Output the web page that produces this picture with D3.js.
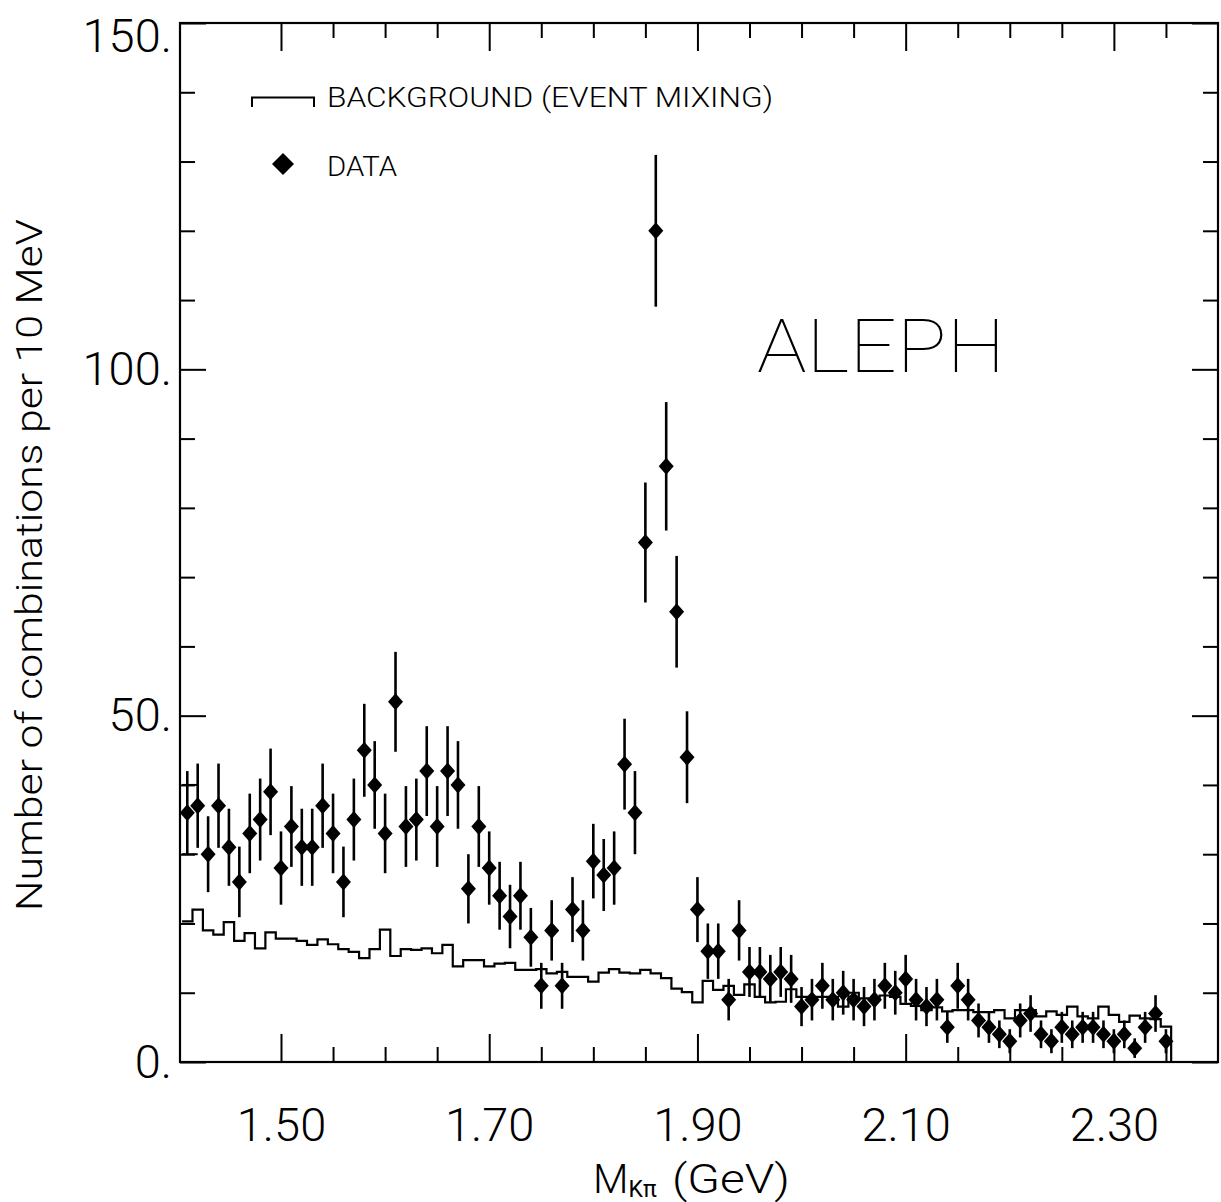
<!DOCTYPE html>
<html>
<head>
<meta charset="utf-8">
<script src="https://cdn.jsdelivr.net/npm/d3@7"></script>
<style>
body { margin: 0; background: #fff; }
svg text { font-family: Roboto, "Liberation Sans", sans-serif; font-weight: 300; fill: #000; }
</style>
</head>
<body>
<div id="chart"></div>
<script>
// K-pi invariant mass, 10 MeV bins, first bin centre 1.41 GeV
const massStart = 1.41;
const binWidth = 0.01;

// DATA (counts per bin)
const dataCounts = [36, 37, 30, 37, 31, 26, 33, 35, 39, 28,
    34, 31, 31, 37, 33, 26, 35, 45, 40, 33,
    52, 34, 35, 42, 34, 42, 40, 25, 34, 28,
    24, 21, 24, 18, 11, 19, 11, 22, 19, 29,
    27, 28, 43, 36, 75, 120, 86, 65, 44, 22,
    16, 16, 9, 19, 13, 13, 12, 13, 12, 8,
    9, 11, 9, 10, 9, 8, 9, 11, 10, 12,
    9, 8, 9, 5, 11, 9, 6, 5, 4, 3,
    6, 7, 4, 3, 5, 4, 5, 5, 4, 3,
    4, 2, 5, 7, 3];

// BACKGROUND (event mixing), same bins
const bgCounts = [20.3, 22.0, 19.0, 18.4, 20.2, 17.5, 18.6, 16.4, 18.7, 17.8,
    17.8, 17.5, 16.9, 17.7, 17.0, 16.3, 15.9, 15.0, 16.3, 19.1,
    15.3, 16.3, 16.2, 16.4, 15.7, 16.9, 13.8, 14.7, 14.7, 13.8,
    14.2, 14.3, 13.3, 13.3, 13.4, 12.8, 13.0, 12.3, 12.3, 11.6,
    12.9, 13.4, 12.9, 12.8, 13.3, 12.8, 12.1, 10.6, 10.1, 8.6,
    11.7, 10.4, 11.0, 9.7, 11.2, 9.4, 8.6, 8.7, 10.5, 9.4,
    9.4, 9.4, 9.4, 8.0, 10.0, 9.2, 9.0, 9.6, 9.4, 8.4,
    8.1, 7.5, 7.9, 7.3, 7.5, 7.5, 7.2, 7.2, 7.5, 6.3,
    7.5, 7.5, 6.6, 7.3, 6.8, 8.0, 6.6, 6.3, 8.0, 6.8,
    5.8, 6.7, 6.3, 6.2, 5.1];

const masses = dataCounts.map((d, i) => +(massStart + i * binWidth).toFixed(3));

const xMajor = [1.50, 1.70, 1.90, 2.10, 2.30];
const xMinor = [1.55, 1.60, 1.65, 1.75, 1.80, 1.85, 1.95, 2.00, 2.05, 2.15, 2.20, 2.25, 2.35];
const yMajor = [0, 50, 100, 150];
const yMinor = [10, 20, 30, 40, 60, 70, 80, 90, 110, 120, 130, 140];
const firstBinMarks = [30, 40];

const W = 1221, H = 1202;
const margin = { top: 23, right: 3, bottom: 140, left: 180 };
const width = W - margin.left - margin.right;
const height = H - margin.top - margin.bottom;

const svg = d3.select("#chart").append("svg")
    .attr("width", W)
    .attr("height", H);

const g = svg.append("g").attr("transform", `translate(${margin.left},${margin.top})`);

const x = d3.scaleLinear().domain([1.403, 2.40]).range([0, width]);
const y = d3.scaleLinear().domain([0, 150]).range([height, 0]);

// axes, ticks pointing inward
function styleAxis(sel) {
    sel.select(".domain").remove();
    sel.selectAll(".tick line").attr("stroke", "#000").attr("stroke-width", 2);
    sel.selectAll(".tick text").style("font-size", "47px").attr("fill", "#000");
}

g.append("g").attr("transform", `translate(0,${height})`)
    .call(d3.axisBottom(x).tickValues(xMajor).tickSize(-28).tickSizeOuter(0)
        .tickPadding(46).tickFormat(d3.format(".2f")))
    .call(styleAxis);
g.append("g").attr("transform", `translate(0,${height})`)
    .call(d3.axisBottom(x).tickValues(xMinor).tickSize(-15).tickSizeOuter(0).tickFormat(""))
    .call(styleAxis);
g.append("g")
    .call(d3.axisTop(x).tickValues(xMajor).tickSize(-28).tickSizeOuter(0).tickFormat(""))
    .call(styleAxis);
g.append("g")
    .call(d3.axisTop(x).tickValues(xMinor).tickSize(-15).tickSizeOuter(0).tickFormat(""))
    .call(styleAxis);

const gy = g.append("g")
    .call(d3.axisLeft(y).tickValues(yMajor).tickSize(-26).tickSizeOuter(0)
        .tickPadding(8).tickFormat(d => d + "."))
    .call(styleAxis);
gy.selectAll(".tick text").filter(d => d === 150).attr("dy", "0.6em");
g.append("g")
    .call(d3.axisLeft(y).tickValues(yMinor).tickSize(-15).tickSizeOuter(0).tickFormat(""))
    .call(styleAxis);
g.append("g").attr("transform", `translate(${width},0)`)
    .call(d3.axisRight(y).tickValues(yMajor).tickSize(-26).tickSizeOuter(0).tickFormat(""))
    .call(styleAxis);
g.append("g").attr("transform", `translate(${width},0)`)
    .call(d3.axisRight(y).tickValues(yMinor).tickSize(-15).tickSizeOuter(0).tickFormat(""))
    .call(styleAxis);

// frame
g.append("rect")
    .attr("width", width)
    .attr("height", height)
    .attr("fill", "none")
    .attr("stroke", "#000")
    .attr("stroke-width", 2.2);

// background histogram
const steps = [];
bgCounts.forEach((v, i) => {
    steps.push([masses[i] - binWidth / 2, v]);
    steps.push([masses[i] + binWidth / 2, v]);
});
const lastEdge = masses[masses.length - 1] + binWidth / 2;
steps.push([lastEdge, 0], [lastEdge + binWidth, 0]);

g.append("path")
    .datum(steps)
    .attr("fill", "none")
    .attr("stroke", "#000")
    .attr("stroke-width", 2.2)
    .attr("d", d3.line().x(d => x(d[0])).y(d => y(d[1])));

// odd little marks on the first bin
g.selectAll("line.firstbin")
    .data(firstBinMarks)
    .join("line")
    .attr("class", "firstbin")
    .attr("x1", x(masses[0] - binWidth / 2))
    .attr("x2", x(masses[0] + binWidth))
    .attr("y1", d => y(d))
    .attr("y2", d => y(d))
    .attr("stroke", "#000")
    .attr("stroke-width", 2);

// data: Poisson error bars + diamonds
const pts = dataCounts.map((d, i) => ({ m: masses[i], n: d, e: Math.sqrt(d) }));

g.selectAll("line.err")
    .data(pts)
    .join("line")
    .attr("class", "err")
    .attr("x1", d => x(d.m))
    .attr("x2", d => x(d.m))
    .attr("y1", d => y(d.n - d.e))
    .attr("y2", d => y(d.n + d.e))
    .attr("stroke", "#000")
    .attr("stroke-width", 2.6);

const diamond = "M0,-8.5L7.5,0L0,8.5L-7.5,0Z";
g.selectAll("path.pt")
    .data(pts)
    .join("path")
    .attr("class", "pt")
    .attr("d", diamond)
    .attr("transform", d => `translate(${x(d.m)},${y(d.n)})`)
    .attr("fill", "#000");

// legend
svg.append("path")
    .attr("d", "M252,107V97.5H314V107")
    .attr("fill", "none")
    .attr("stroke", "#000")
    .attr("stroke-width", 2);
svg.append("text")
    .attr("x", 327).attr("y", 107)
    .attr("textLength", 446).attr("lengthAdjust", "spacingAndGlyphs")
    .style("font-size", "27px")
    .text("BACKGROUND (EVENT MIXING)");
svg.append("path")
    .attr("d", "M0,-11L11,0L0,11L-11,0Z")
    .attr("transform", "translate(283,164)")
    .attr("fill", "#000");
svg.append("text")
    .attr("x", 327).attr("y", 176)
    .attr("textLength", 70).attr("lengthAdjust", "spacingAndGlyphs")
    .style("font-size", "28px")
    .text("DATA");

// experiment label
svg.append("text")
    .attr("x", 757).attr("y", 372)
    .attr("textLength", 248).attr("lengthAdjust", "spacingAndGlyphs")
    .style("font-size", "75px")
    .style("font-weight", 100)
    .text("ALEPH");

// axis titles
svg.append("text")
    .attr("transform", "translate(42,565) rotate(-90)")
    .attr("text-anchor", "middle")
    .attr("textLength", 692).attr("lengthAdjust", "spacingAndGlyphs")
    .style("font-size", "37px")
    .text("Number of combinations per 10 MeV");

const xt = svg.append("text").attr("x", 593).attr("y", 1193).style("font-size", "41px");
xt.append("tspan").text("M");
xt.append("tspan").attr("dy", 4).style("font-size", "23px").style("font-weight", 400).text("Kπ");
xt.append("tspan").attr("x", 672).attr("dy", -4)
    .attr("textLength", 118).attr("lengthAdjust", "spacingAndGlyphs").text("(GeV)");
</script>
</body>
</html>
